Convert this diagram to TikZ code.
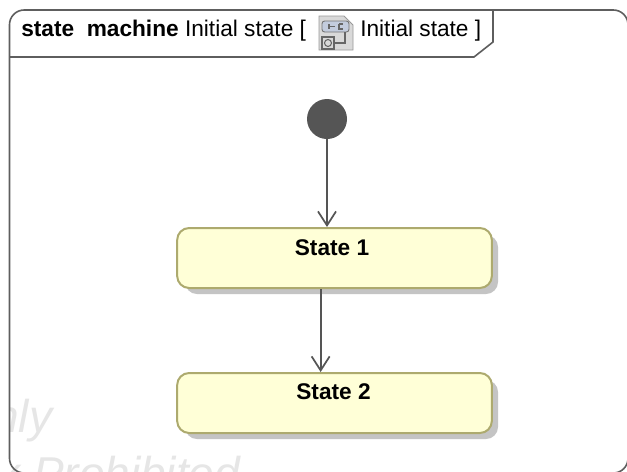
\documentclass[tikz,border=0pt]{standalone}
\usepackage{fontspec}
\setmainfont{Liberation Sans}
\usepackage{xcolor}
\usetikzlibrary{arrows.meta}
\definecolor{framegray}{HTML}{5E5E5E}
\definecolor{stateyellow}{HTML}{FFFFD7}
\definecolor{stateline}{HTML}{ADAA6E}
\definecolor{shadowgray}{HTML}{C4C4C4}
\definecolor{markgray}{HTML}{E6E6E6}
\definecolor{wiregray}{HTML}{555555}
\definecolor{iconpaper}{HTML}{D9D9D9}
\definecolor{iconblue}{HTML}{C3CCDD}
\tikzset{
	statebox/.style={draw=stateline, fill=stateyellow, line width=1.5pt, rounded corners=9pt, minimum width=236pt, minimum height=45pt, inner sep=0pt},
	stateshadow/.style={fill=shadowgray, rounded corners=9pt},
	statelabel/.style={font=\bfseries\fontsize{17}{20}\selectfont, inner sep=0pt, anchor=base},
	titletext/.style={font=\fontsize{17}{20}\selectfont, inner sep=0pt, anchor=base west},
	initdot/.style={circle, fill=wiregray, minimum size=30pt, inner sep=0pt},
	wire/.style={draw=wiregray, line width=1.3pt, -{Straight Barb[length=10.5pt, width=13.5pt]}},
	watermark/.style={font=\itshape\fontsize{34.5}{38}\selectfont, text=markgray, inner sep=0pt, anchor=base west}
}

\begin{document}
\begin{tikzpicture}[x=0.75pt, y=-0.75pt]
	\useasboundingbox (0,0) rectangle (627,471);
	\fill[white] (0,0) rectangle (627,471);
	\begin{scope}
		\clip (10,0) rectangle (627,471);
		\node[watermark] (markA) at (-7,432) {nly};
		\node[watermark] (markB) at (-3,489) {x Prohibited};
	\end{scope}
	% frame and tab
	\begin{scope}
		\clip (0,0) rectangle (627,471);
		\draw[framegray, line width=1.2pt, rounded corners=11pt] (9.5,473) -- (9.5,10) -- (628,10) -- (628,473) -- cycle;
	\end{scope}
	\draw[framegray, line width=1.2pt] (9.5,57) -- (474,57) -- (493,42) -- (493,10);
	\node[titletext] (title) at (21,36) {\textbf{state\ \ machine} Initial state [};
	\node[titletext] (titleB) at (360,36) {Initial state\ ]};
	% icon
	\draw[fill=iconpaper, draw=black!40, line width=0.6pt] (319,16) -- (344,16) -- (353,25) -- (353,50) -- (319,50) -- cycle;
	\draw[fill=iconblue, draw=black!55, line width=0.7pt, rounded corners=2pt] (322,21) rectangle (349,32);
	\draw[black!60, line width=0.8pt] (329,24) -- (329,29) (329,26.5) -- (335,26.5) (339,24) -- (339,29) -- (343,29) (339,24) -- (343,24);
	\draw[black!60, line width=0.8pt] (345,32) -- (345,43) -- (335,43);
	\draw[black!60, line width=0.8pt] (322,37) rectangle (334,49);
	\draw[black!60, line width=0.8pt] (328,43) circle (3.5);
	% states
	\fill[stateshadow] (185,235) rectangle (498,294);
	\fill[stateshadow] (185,380) rectangle (498,439);
	\node[statebox] (stateA) at (334.5,258) {};
	\node[statelabel] (labelA) at (332,255) {State 1};
	\node[statebox] (stateB) at (334.5,403) {};
	\node[statelabel] (labelB) at (333.5,399) {State 2};
	\node[initdot] (init) at (327,119) {};
	\draw[wire] (init) -- (init |- stateA.north);
	\draw[wire] ([xshift=-10.4pt]stateA.south) -- ([xshift=-10.4pt]stateB.north);
\end{tikzpicture}
\end{document}
